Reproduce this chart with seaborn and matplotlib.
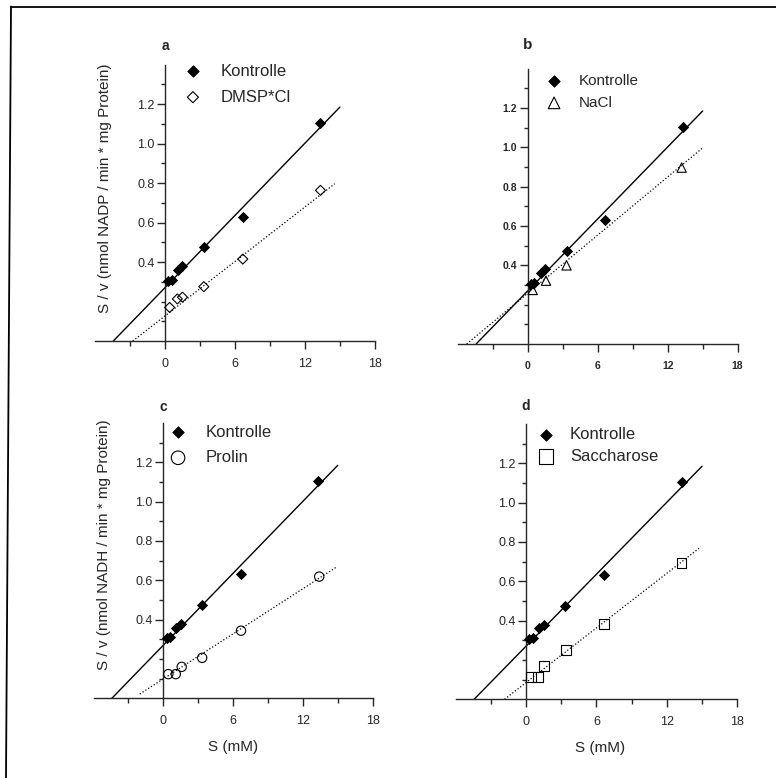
import numpy as np
import matplotlib
matplotlib.use("Agg")
import matplotlib.pyplot as plt
from matplotlib.lines import Line2D
from matplotlib.ticker import FormatStrFormatter
import seaborn as sns

# control series (same in every panel)
s_ctrl = [0.28, 0.56, 1.11, 1.5, 3.33, 6.67, 13.33]
sv_ctrl = [0.305, 0.31, 0.36, 0.38, 0.475, 0.63, 1.105]

# treatment series
s_dmsp = [0.4, 1.06, 1.5, 3.33, 6.67, 13.33]
sv_dmsp = [0.17, 0.213, 0.222, 0.275, 0.415, 0.763]

s_nacl = [0.43, 1.57, 3.33, 13.2]
sv_nacl = [0.275, 0.322, 0.40, 0.897]

s_prolin = [0.43, 1.07, 1.58, 3.34, 6.68, 13.4]
sv_prolin = [0.123, 0.123, 0.16, 0.206, 0.344, 0.619]

s_sacch = [0.42, 0.99, 1.56, 3.37, 6.66, 13.25]
sv_sacch = [0.114, 0.114, 0.168, 0.249, 0.381, 0.693]

# regression lines: slope, intercept, x start, x end
line_ctrl = [0.061, 0.27, -4.43, 15.0]
line_dmsp = [0.046, 0.127, -2.76, 14.55]
line_nacl = [0.0493, 0.258, -5.23, 15.06]
line_prolin = [0.0382, 0.099, -2.02, 14.9]
line_sacch = [0.0463, 0.085, -1.84, 14.9]

labels = ["DMSP*Cl", "NaCl", "Prolin", "Saccharose"]
panel_names = ["a", "b", "c", "d"]
ylabel_a = "S / v (nmol NADP / min * mg Protein)"
ylabel_c = "S / v (nmol NADH / min * mg Protein)"

sns.set_style("ticks")
plt.rcParams['font.family'] = ['Liberation Sans', 'DejaVu Sans']

fig = plt.figure(figsize=(7.76, 7.78), dpi=100)

# axes rectangles (figure fraction)
rects = [[0.1224, 0.5617, 0.3608, 0.3553],
         [0.5898, 0.5578, 0.3608, 0.3539],
         [0.1205, 0.1024, 0.3598, 0.3539],
         [0.5872, 0.1012, 0.3629, 0.3539]]

treat = [(s_dmsp, sv_dmsp, line_dmsp, 'D', 26, 32),
         (s_nacl, sv_nacl, line_nacl, '^', 45, 70),
         (s_prolin, sv_prolin, line_prolin, 'o', 45, 95),
         (s_sacch, sv_sacch, line_sacch, 's', 50, 105)]

# legend placement per panel: anchor x, anchor y, fontsize, textpad, spacing
leg_pos = [(0.320, 1.003, 12, 1.18, 0.65),
           (0.317, 0.981, 11, 1.09, 0.52),
           (0.273, 0.994, 12, 1.18, 0.63),
           (0.291, 0.989, 12, 0.94, 0.41)]
label_y = [1.068, 1.086, 1.059, 1.065]

for i in range(4):
    ax = fig.add_axes(rects[i])
    sx, sy, ln, mk, ms, lms = treat[i]

    # lines
    xc = np.array(line_ctrl[2:])
    sns.lineplot(x=xc, y=line_ctrl[0] * xc + line_ctrl[1], ax=ax,
                 color='black', lw=1.0, zorder=2)
    xt = np.array(ln[2:])
    sns.lineplot(x=xt, y=ln[0] * xt + ln[1], ax=ax, color='black',
                 lw=0.9, linestyle=':', zorder=2)

    # points
    sns.scatterplot(x=s_ctrl, y=sv_ctrl, ax=ax, marker='D', s=26,
                    color='black', edgecolor='black', linewidth=0.6,
                    label='Kontrolle', zorder=4)
    sns.scatterplot(x=sx, y=sy, ax=ax, marker=mk, s=ms,
                    facecolor='none', edgecolor='black', linewidth=0.8,
                    label=labels[i], zorder=3)
    ax.collections[-1].set_facecolor('none')

    ax.set_xlim(-6, 18)
    ax.set_ylim(0, 1.4)
    ax.spines['left'].set_position(('data', 0))
    ax.spines['bottom'].set_position(('data', 0))
    ax.spines['top'].set_visible(False)
    ax.spines['right'].set_visible(False)
    for sp in ['left', 'bottom']:
        ax.spines[sp].set_linewidth(1.0)

    ax.set_xticks([0, 6, 12, 18])
    ax.set_xticks([-3, 3, 9, 15], minor=True)
    ax.set_yticks([0.4, 0.6, 0.8, 1.0, 1.2])
    ax.set_yticks([0.1, 0.2, 0.3, 0.5, 0.7, 0.9, 1.1, 1.3], minor=True)
    ax.yaxis.set_major_formatter(FormatStrFormatter('%.1f'))
    ax.tick_params(axis='x', which='major', length=6, width=1, pad=6)
    ax.tick_params(axis='x', which='minor', length=3.5, width=1)
    ax.tick_params(axis='y', which='major', length=5.5, width=1, pad=2)
    ax.tick_params(axis='y', which='minor', length=3, width=1)
    if i == 1:
        ax.tick_params(labelsize=7.5)
        for t in ax.get_xticklabels() + ax.get_yticklabels():
            t.set_fontweight('bold')
    else:
        ax.tick_params(labelsize=9)

    # legend
    lx, ly, lfs, ltp, lsp = leg_pos[i]
    handles, labs = ax.get_legend_handles_labels()
    leg = ax.legend(handles, labs, loc='upper left', bbox_to_anchor=(lx, ly),
                    frameon=False, fontsize=lfs, handlelength=1.0,
                    handletextpad=ltp, labelspacing=lsp, borderpad=0,
                    borderaxespad=0)
    leg.legend_handles[0].set_sizes([34])
    leg.legend_handles[1].set_sizes([lms])

    if i == 0:
        ax.set_ylabel(ylabel_a, fontsize=11, va='center')
        ax.yaxis.set_label_coords(0.036, 0.553)
    elif i == 2:
        ax.set_ylabel(ylabel_c, fontsize=11, va='center')
        ax.yaxis.set_label_coords(0.0376, 0.557)
    else:
        ax.set_ylabel('')
    if i >= 2:
        ax.set_xlabel('S (mM)', fontsize=11, va='center')
        ax.xaxis.set_label_coords(0.499 if i == 2 else 0.512, -0.177)
    else:
        ax.set_xlabel('')

    ax.annotate(panel_names[i], xy=(0, label_y[i]),
                xycoords=('data', 'axes fraction'), ha='center', va='center',
                fontsize=11 if i == 1 else 10, fontweight='bold')

# scanned page border (top and left edge)
fig.add_artist(Line2D([11 / 776, 1.0], [1 - 6.5 / 778, 1 - 6.5 / 778],
                      transform=fig.transFigure, color='black', lw=1.3))
fig.add_artist(Line2D([11 / 776, 6 / 776], [1 - 6.5 / 778, 0.0],
                      transform=fig.transFigure, color='black', lw=1.3))

plt.savefig('out.png', dpi=100)
